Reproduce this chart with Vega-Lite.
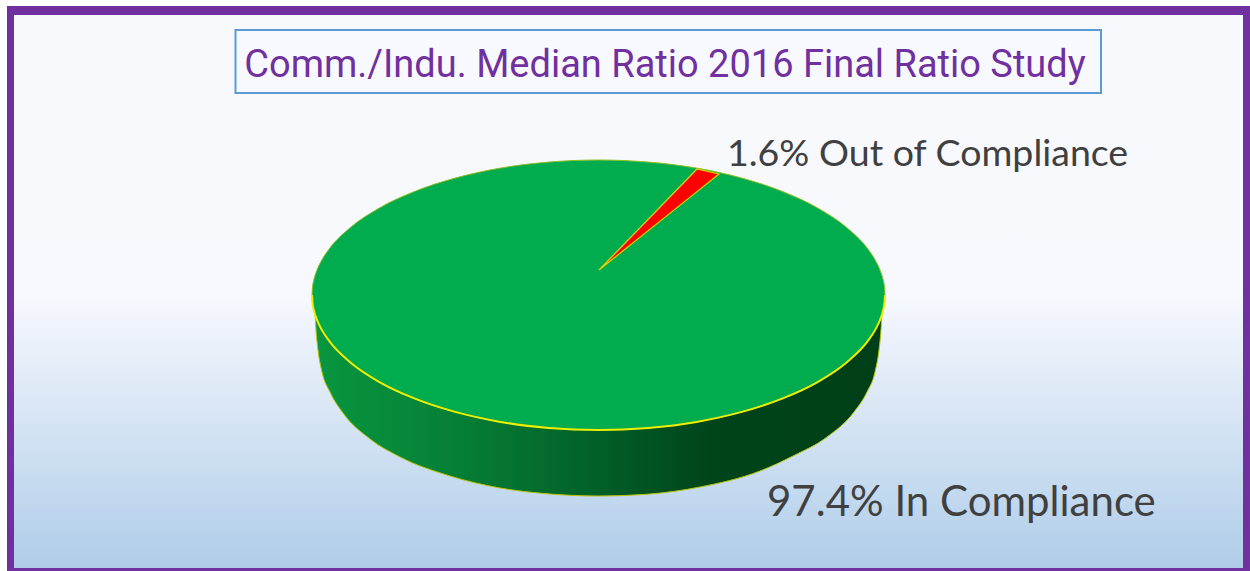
{
"$schema":"https://vega.github.io/schema/vega-lite/v6.json",
"autosize":{"type":"fit","contains":"padding"},
"width":1250,"height":571,"padding":0,"background":"#ffffff",
"view":{"stroke":null},
"datasets":{
"frame":[{"x":7,"x2":1250,"y":6,"y2":571}],
"panel":[{"x":14,"x2":1243,"y":15,"y2":568}],
"titlebox":[{"x":235.5,"x2":1101,"y":30,"y2":93}],
"title":[{"x":665,"y":77,"label":"Comm./Indu. Median Ratio 2016 Final Ratio Study"}],
"labels":[{"x":727,"y":166,"label":"1.6% Out of Compliance","share":1.6,"size":"small"},{"x":767,"y":516,"label":"97.4% In Compliance","share":97.4,"size":"large"}],
"side":[
{"x":315,"y":313,"y2":300},{"x":316,"y":330,"y2":300},{"x":318,"y":350,"y2":300},{"x":322,"y":372,"y2":300},{"x":330,"y":392,"y2":300},{"x":343,"y":413,"y2":300},{"x":370,"y":439,"y2":300},{"x":400,"y":457,"y2":300},{"x":450,"y":476,"y2":300},{"x":500,"y":488,"y2":300},{"x":550,"y":494,"y2":300},{"x":598,"y":496,"y2":300},{"x":650,"y":494,"y2":300},{"x":700,"y":487,"y2":300},{"x":760,"y":471,"y2":300},{"x":793,"y":456,"y2":300},{"x":827,"y":437,"y2":300},{"x":854,"y":412,"y2":300},{"x":867,"y":392,"y2":300},{"x":875,"y":372,"y2":300},{"x":879,"y":350,"y2":300},{"x":881,"y":330,"y2":300},{"x":882,"y":313,"y2":300}
],
"disc":[
{"x":312,"y":295,"y2":295},{"x":312.4,"y":287.9,"y2":302.1},{"x":313.6,"y":280.9,"y2":309.1},{"x":316.4,"y":271.6,"y2":318.4},{"x":321.8,"y":260.1,"y2":329.9},{"x":329.3,"y":248.8,"y2":341.2},{"x":350.4,"y":227.5,"y2":362.5},{"x":379,"y":208.2,"y2":381.8},{"x":414.3,"y":191.6,"y2":398.4},{"x":455.2,"y":178.1,"y2":411.9},{"x":500.5,"y":168.1,"y2":421.9},{"x":548.7,"y":162.1,"y2":427.9},{"x":598.5,"y":160,"y2":430},{"x":648.3,"y":162.1,"y2":427.9},{"x":696.5,"y":168.1,"y2":421.9},{"x":741.8,"y":178.1,"y2":411.9},{"x":782.7,"y":191.6,"y2":398.4},{"x":818,"y":208.2,"y2":381.8},{"x":846.6,"y":227.5,"y2":362.5},{"x":867.7,"y":248.8,"y2":341.2},{"x":875.2,"y":260.1,"y2":329.9},{"x":880.6,"y":271.6,"y2":318.4},{"x":883.4,"y":280.9,"y2":309.1},{"x":884.6,"y":287.9,"y2":302.1},{"x":885,"y":295,"y2":295}
],
"wedge":[{"x":599,"y":270,"y2":270},{"x":697,"y":169,"y2":191.6},{"x":719,"y":174,"y2":174}]
},
"encoding":{
"x":{"field":"x","type":"quantitative","axis":null,"scale":{"domain":[0,1250],"nice":false,"zero":false}},
"y":{"field":"y","type":"quantitative","axis":null,"scale":{"domain":[571,0],"nice":false,"zero":false}}
},
"layer":[
{"data":{"name":"frame"},"mark":{"type":"rect","color":"#7030a0"},"encoding":{"x2":{"field":"x2"},"y2":{"field":"y2"}}},
{"data":{"name":"panel"},"mark":{"type":"rect","color":{"gradient":"linear","x1":0,"y1":0,"x2":0,"y2":1,"stops":[{"offset":0,"color":"#f7f9fd"},{"offset":0.5,"color":"#f8f9fe"},{"offset":1,"color":"#afcde9"}]}},"encoding":{"x2":{"field":"x2"},"y2":{"field":"y2"}}},
{"data":{"name":"titlebox"},"mark":{"type":"rect","fill":"#f8f9fe","stroke":"#5b9bd5","strokeWidth":2},"encoding":{"x2":{"field":"x2"},"y2":{"field":"y2"}}},
{"data":{"name":"title"},"mark":{"type":"text","align":"center","baseline":"alphabetic","font":"Roboto","fontSize":38,"color":"#7030a0"},"encoding":{"text":{"field":"label"}}},
{"data":{"name":"side"},"mark":{"type":"area","interpolate":"monotone","stroke":"#b9c400","strokeWidth":1,"color":{"gradient":"linear","x1":0,"y1":0,"x2":1,"y2":0,"stops":[{"offset":0,"color":"#08963f"},{"offset":0.25,"color":"#067f36"},{"offset":0.5,"color":"#025f27"},{"offset":0.7,"color":"#00441b"},{"offset":1,"color":"#003f18"}]}},"encoding":{"y2":{"field":"y2"}}},
{"data":{"name":"disc"},"mark":{"type":"area","interpolate":"monotone","color":"#00ac4e","stroke":"#8fbf20","strokeWidth":1},"encoding":{"y2":{"field":"y2"}}},
{"data":{"name":"disc"},"mark":{"type":"line","interpolate":"monotone","color":"#eeee00","strokeWidth":2},"encoding":{"y":{"field":"y2","type":"quantitative"}}},
{"data":{"name":"wedge"},"mark":{"type":"area","color":"#ff0000","stroke":"#d8d800","strokeWidth":1.2},"encoding":{"y2":{"field":"y2"}}},
{"data":{"name":"labels"},"transform":[{"filter":"datum.size==='small'"}],"mark":{"type":"text","align":"left","baseline":"alphabetic","font":"Lato","fontSize":37.5,"color":"#404040"},"encoding":{"text":{"field":"label"}}},
{"data":{"name":"labels"},"transform":[{"filter":"datum.size==='large'"}],"mark":{"type":"text","align":"left","baseline":"alphabetic","font":"Lato","fontSize":42,"color":"#404040"},"encoding":{"text":{"field":"label"}}}
]
}
